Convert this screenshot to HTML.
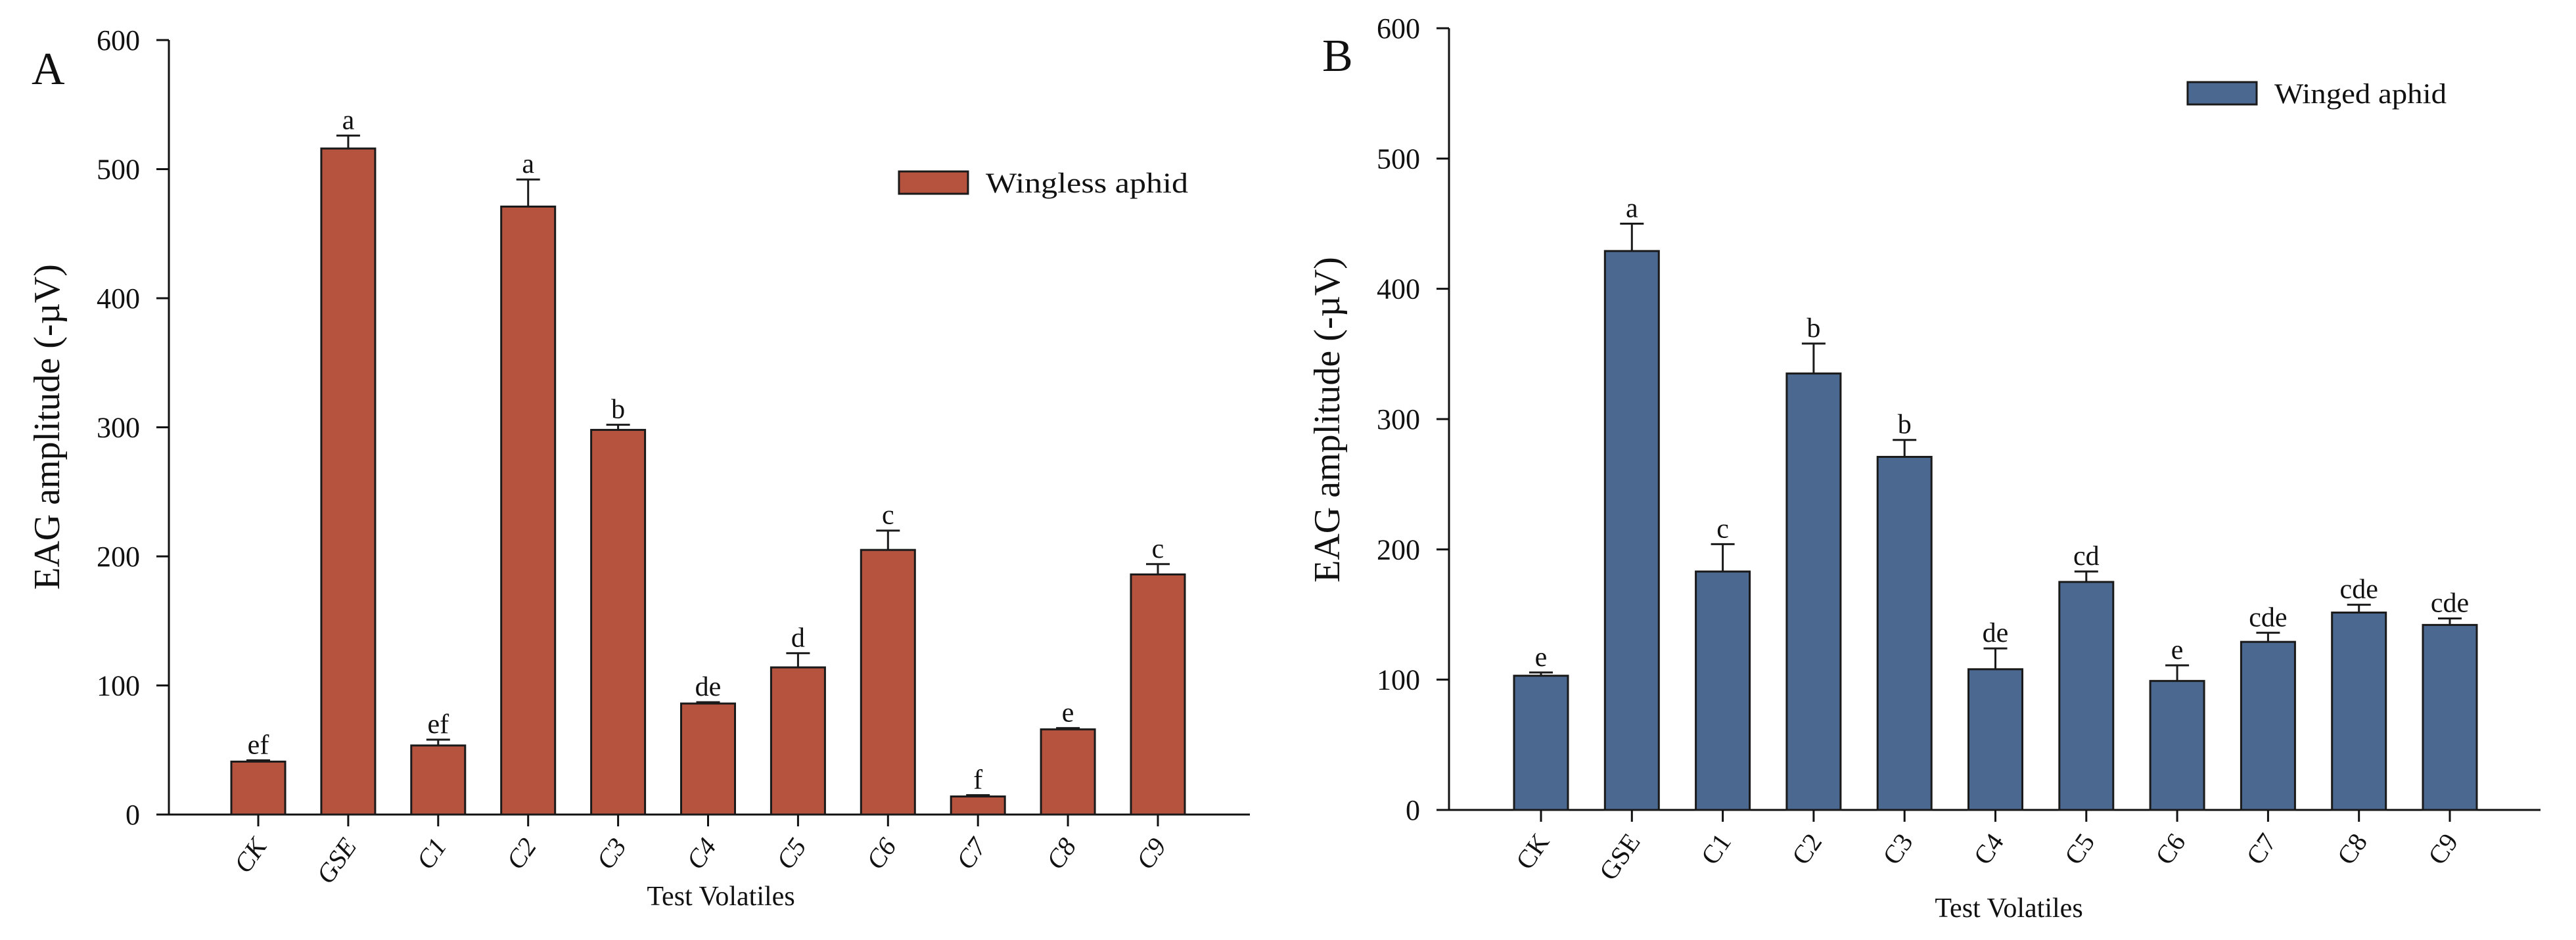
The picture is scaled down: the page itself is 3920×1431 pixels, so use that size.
<!DOCTYPE html>
<html><head><meta charset="utf-8"><style>
html,body{margin:0;padding:0;background:#fff;}
svg{display:block;}
text{font-family:"Liberation Serif",serif;fill:#111;}
</style></head><body>
<svg id="chart" width="3920" height="1431" viewBox="0 0 3920 1431" xmlns="http://www.w3.org/2000/svg"></svg>
<script>
const categories = ["CK","GSE","C1","C2","C3","C4","C5","C6","C7","C8","C9"];
const yTicks = [0,100,200,300,400,500,600];
const winglessMeans = [41,516,53.5,471,298,86,114,205,14,66,186];
const winglessErr = [1,10,4.5,21,4,1,11,15,1,1,8];
const winglessLetters = ["ef","a","ef","a","b","de","d","c","f","e","c"];
const wingedMeans = [103,429,183,335,271,108,175,99,129,151.5,142];
const wingedErr = [2.5,21,21,23,13,16,8,12,7,6,5];
const wingedLetters = ["e","a","c","b","b","de","cd","e","cde","cde","cde"];

const NS="http://www.w3.org/2000/svg";
const svg=document.getElementById('chart');
function mk(tag,attrs,parent,txt){const e=document.createElementNS(NS,tag);for(const k in attrs)e.setAttribute(k,attrs[k]);if(txt!==undefined)e.textContent=txt;(parent||svg).appendChild(e);return e;}

function panel(p){
  const g=mk('g',{});
  
  
  const y=v=>p.y0-(v/600)*(p.y0-p.y600);
  const x=i=>p.x0+i*p.step;
  const ya=mk('line',{x1:p.ax,y1:p.y600,x2:p.ax,y2:p.y0,stroke:'#111','stroke-width':3},g);
  
  const xa=mk('line',{x1:p.ax-19,y1:p.y0,x2:p.xEnd,y2:p.y0,stroke:'#111','stroke-width':3},g);
  
  yTicks.forEach(t=>{
    mk('line',{x1:p.ax-19,y1:y(t),x2:p.ax,y2:y(t),stroke:'#111','stroke-width':3},g);
    const tl=mk('text',{x:p.ax-44,y:y(t)+15,'text-anchor':'end','font-size':44},g,String(t));
    
  });
  categories.forEach((c,i)=>{
    const cx=x(i),v=p.means[i],e=p.err[i];
    const b=mk('rect',{x:cx-41,y:y(v),width:82,height:p.y0-y(v),fill:p.color,stroke:'#1a1a1a','stroke-width':3},g);
    
    mk('line',{x1:cx,y1:y(v),x2:cx,y2:y(v+e),stroke:'#1a1a1a','stroke-width':3},g);
    mk('line',{x1:cx-18,y1:y(v+e),x2:cx+18,y2:y(v+e),stroke:'#1a1a1a','stroke-width':3},g);
    const lt=mk('text',{x:cx,y:y(v+e)-10,'text-anchor':'middle','font-size':42},g,p.letters[i]);
    
    mk('line',{x1:cx,y1:p.y0,x2:cx,y2:p.y0+18,stroke:'#111','stroke-width':3},g);
    const xl=mk('text',{x:cx+14,y:p.y0+48,'text-anchor':'end','font-size':40,'font-style':p.italic?'italic':'normal',transform:`rotate(-55 ${cx+14} ${p.y0+48})`},g,c);
    
  });
  const yt=mk('text',{x:p.ytx,y:p.yty,'text-anchor':'middle','font-size':56,transform:`rotate(-90 ${p.ytx} ${p.yty})`},g,'EAG amplitude (-µV)');
  
  const xt=mk('text',{x:p.xtx,y:p.xty,'text-anchor':'middle','font-size':42},g,'Test Volatiles');
  
  const pl=mk('text',{x:p.lx,y:p.ly,'font-size':70},g,p.label);
  
  const lg=mk('g',{},g);
  
  mk('rect',{x:p.lgx,y:p.lgy,width:105,height:34,fill:p.color,stroke:'#1a1a1a','stroke-width':3},lg);
  mk('text',{x:p.lgx+132,y:p.lgy+32,'font-size':43,textLength:p.lgw,lengthAdjust:'spacingAndGlyphs','font-family':p.lgFont},lg,p.legend);
}
panel({id:'wingless',x0:393,step:136.9,ax:257,y0:1240,y600:61,xEnd:1902,means:winglessMeans,err:winglessErr,letters:winglessLetters,color:'#b5533e',italic:true,
  ytx:90,yty:650,xtx:1097,xty:1378,lx:48,ly:128,label:'A',lgx:1368,lgy:261,legend:'Wingless aphid',lgw:308,lgFont:'"Liberation Sans", sans-serif'});
panel({id:'winged',x0:2345,step:138.3,ax:2205,y0:1233,y600:43,xEnd:3866,means:wingedMeans,err:wingedErr,letters:wingedLetters,color:'#4a6890',italic:false,
  ytx:2038,yty:639,xtx:3057,xty:1396,lx:2012,ly:108,label:'B',lgx:3329,lgy:125,legend:'Winged aphid',lgw:262,lgFont:'"Liberation Serif", serif'});
</script>
</body></html>
